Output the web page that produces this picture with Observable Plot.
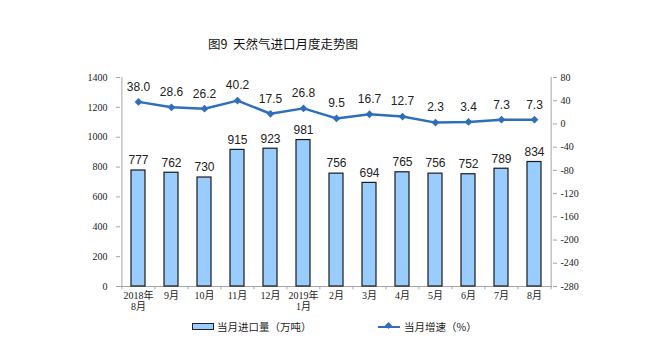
<!DOCTYPE html>
<html>
<head>
<meta charset="utf-8">
<script src="https://cdn.jsdelivr.net/npm/d3@7"></script>
<script src="https://cdn.jsdelivr.net/npm/@observablehq/plot@0.6"></script>
<style>
  body { margin: 0; background: #fff; }
  #wrap { position: relative; width: 649px; height: 354px; overflow: hidden; }
  #title { position: absolute; left: 0; width: 566px; top: 34px; text-align: center;
    font: 12.5px "Noto Sans CJK SC", sans-serif; color: #111; }
  .leg { position: absolute; top: 319px; font: 10.5px "Noto Sans CJK SC", sans-serif; color: #222; display: flex; align-items: center; }
  .sw-bar { width: 20px; height: 5px; background: #99ccff; border: 1px solid #222; margin-right: 3px; }
  .sw-line { position: relative; width: 22px; height: 2px; background: #2e6fbd; margin-right: 4px; }
  .sw-line::after { content: ""; position: absolute; left: 8px; top: -2.5px; width: 5px; height: 5px; background: #2e6fbd; transform: rotate(45deg); }
</style>
</head>
<body>
<div id="wrap">
  <div id="title">图9&nbsp; 天然气进口月度走势图</div>
  <div id="chart"></div>
  <div class="leg" style="left:192px"><div class="sw-bar"></div>当月进口量（万吨）</div>
  <div class="leg" style="left:378px"><div class="sw-line"></div>当月增速（%）</div>
</div>
<script>
const months = ["2018年\n8月","9月","10月","11月","12月","2019年\n1月","2月","3月","4月","5月","6月","7月","8月"];
const volume = [777, 762, 730, 915, 923, 981, 756, 694, 765, 756, 752, 789, 834];
const growth = [38.0, 28.6, 26.2, 40.2, 17.5, 26.8, 9.5, 16.7, 12.7, 2.3, 3.4, 7.3, 7.3];
const leftTicks = [0, 200, 400, 600, 800, 1000, 1200, 1400];
const rightTicks = [80, 40, 0, -40, -80, -120, -160, -200, -240, -280];

// map right-axis values (-280..80) onto left-axis domain (0..1400)
const gMin = -280, gMax = 80, vMax = 1400;
const toLeft = g => (g - gMin) / (gMax - gMin) * vMax;

const bars = months.map((m, i) => ({m, v: volume[i]}));
const pts = months.map((m, i) => ({m, g: growth[i], y: toLeft(growth[i])}));

const W = 649, H = 354, mL = 120, mR = 97;
const step = (W - mL - mR) / months.length;

const serif = `"Liberation Serif", "Noto Sans CJK SC", serif`;
const sans = `"Liberation Sans", Arial, sans-serif`;

const chart = Plot.plot({
  width: W, height: H,
  marginTop: 77, marginBottom: 68, marginLeft: mL, marginRight: mR,
  style: {fontFamily: serif, fontSize: "10px", color: "#222", background: "transparent"},
  x: {domain: months, paddingInner: 0.58, paddingOuter: 0.29, axis: null},
  y: {domain: [0, vMax], axis: null},
  marks: [
    // axis lines
    Plot.ruleX([0], {x: () => months[0], dx: -step / 2, y1: 0, y2: vMax, stroke: "#a6a6a6"}),
    Plot.ruleX([0], {x: () => months[months.length - 1], dx: step / 2, y1: 0, y2: vMax, stroke: "#a6a6a6"}),
    Plot.ruleY([0], {stroke: "#a6a6a6"}),
    // left axis
    Plot.axisY({ticks: leftTicks, anchor: "left", tickSize: 4, tickPadding: 9, stroke: "#a6a6a6",
      tickFormat: d => String(d),
      fontFamily: serif, fontSize: 10, fill: "#222", label: null}),
    // right axis (growth)
    Plot.axisY({ticks: rightTicks.map(toLeft), anchor: "right", tickSize: 4, tickPadding: 4, stroke: "#a6a6a6",
      tickFormat: d => String(Math.round(d / vMax * (gMax - gMin) + gMin)),
      fontFamily: serif, fontSize: 10, fill: "#222", label: null}),
    // x axis ticks at band boundaries
    Plot.ruleX(months, {x: d => d, dx: -step / 2, y1: 0, y2: -22, stroke: "#a6a6a6"}),
    Plot.ruleX([months[months.length - 1]], {x: d => d, dx: step / 2, y1: 0, y2: -22, stroke: "#a6a6a6"}),
    Plot.text(months, {x: d => d, y: 0, dy: 5, text: d => d, lineAnchor: "top",
      fontFamily: serif, fontSize: 10, fill: "#222", lineHeight: 1.1}),
    // bars
    Plot.barY(bars, {x: "m", y: "v", fill: "#99ccff", stroke: "#1a1a1a", strokeWidth: 1.2}),
    Plot.text(bars, {x: "m", y: "v", text: d => String(d.v), dy: -10, fontFamily: sans, fontSize: 12, fill: "#222"}),
    // growth line
    Plot.line(pts, {x: "m", y: "y", stroke: "#2e6fbd", strokeWidth: 2.5}),
    Plot.dot(pts, {x: "m", y: "y", symbol: "diamond2", r: 3.5, fill: "#2e6fbd", stroke: "none"}),
    Plot.text(pts, {x: "m", y: "y", text: d => d.g.toFixed(1), dy: -15, fontFamily: sans, fontSize: 12, fill: "#222"})
  ]
});
document.getElementById("chart").appendChild(chart);
</script>
</body>
</html>
